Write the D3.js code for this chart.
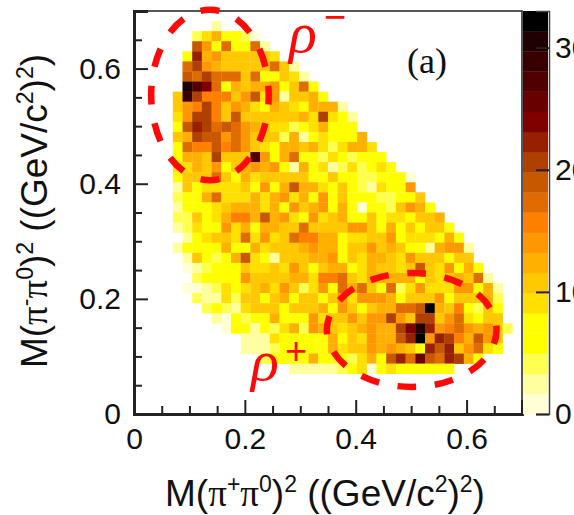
<!DOCTYPE html>
<html>
<head>
<meta charset="utf-8">
<script src="https://cdn.jsdelivr.net/npm/d3@7"></script>
<style>
  html, body { margin: 0; padding: 0; background: #fff; overflow: hidden; }
  svg { display: block; }
  text { font-family: "Liberation Sans", Arial, sans-serif; fill: #111; }
</style>
</head>
<body>
<div id="chart"></div>
<script>
// 40 x 40 bins, rows listed from the top of the plot down (row 0 is empty)
const binCount = 40;
const axisMax = 0.7;
const zMax = 33;
const firstBin = [8, 6, 6, 5, 5, 5, 5, 4, 4, 4, 4, 4, 4, 4, 4, 4, 4, 4, 4, 4, 4, 5, 4, 5, 5, 6, 5, 6, 7, 8, 9, 11, 11, 13, 16];
const rowCounts = [
  [2],
  [4,9,13,6,6,4,1],
  [19,14,6,18,6,6,18,2],
  [6,23,13,14,11,11,11,11,11,9],
  [18,21,14,13,11,11,11,11,11,18,11,2],
  [19,18,21,18,18,18,11,18,6,6,11,9,2],
  [31,28,24,18,6,13,11,13,13,14,6,11,18,6],
  [11,29,21,16,16,16,11,14,19,9,14,2,11,11,13,6],
  [11,14,16,21,16,11,14,13,9,6,13,11,9,6,13,13,13,2],
  [9,14,21,21,16,11,19,11,11,11,11,11,11,13,9,21,9,6,2],
  [6,19,23,21,18,19,18,14,13,11,9,9,4,6,9,13,6,6,6],
  [11,13,21,19,19,14,18,14,11,11,11,4,13,2,6,9,6,6,6,13],
  [6,18,16,16,19,16,18,14,11,9,6,13,13,11,13,9,4,9,13,13,9],
  [6,13,13,11,21,11,11,11,28,14,6,13,18,6,6,4,9,6,4,6,6,6],
  [9,9,13,11,14,6,11,13,14,13,14,6,2,13,6,9,2,4,9,4,6,9,6],
  [6,11,11,11,18,11,6,13,9,11,11,11,11,11,6,6,11,6,6,4,4,6,6,6,1],
  [2,11,6,9,9,9,9,11,6,14,6,13,19,13,13,9,6,11,6,4,2,9,6,6,14],
  [4,6,6,13,18,9,9,9,13,9,13,14,9,13,6,14,6,11,6,6,6,4,4,6,6,11],
  [2,6,6,6,9,11,13,13,13,9,13,6,14,11,13,14,6,13,6,1,6,6,4,11,14,13,6],
  [4,4,11,6,9,13,16,16,13,19,13,14,9,6,14,9,11,13,6,6,11,6,9,9,6,11,11,13],
  [2,4,9,6,6,14,9,13,6,13,13,11,11,18,11,11,11,11,14,14,11,6,13,6,11,6,11,11,6],
  [2,6,9,11,11,9,18,9,14,9,11,18,16,16,13,13,6,9,9,11,11,14,6,9,9,9,6,13,6],
  [2,6,6,6,6,13,6,6,13,9,11,11,11,13,14,13,13,6,11,11,14,11,13,11,6,6,2,13,14,14,2],
  [2,11,6,4,6,13,19,9,6,2,11,11,11,13,13,14,6,11,9,13,13,11,9,14,11,11,11,6,11,11],
  [1,2,4,6,6,6,11,9,9,11,9,14,11,6,11,13,13,6,9,13,11,11,9,11,19,11,9,14,6,13,6],
  [4,6,6,6,6,14,11,11,11,11,13,13,9,16,16,18,11,9,13,13,13,13,13,6,11,9,11,13,11,18,2],
  [1,1,2,4,9,6,9,11,13,9,14,11,4,9,14,6,18,13,18,11,6,18,4,9,14,9,9,9,14,14,6,13,2],
  [4,2,2,9,4,11,11,6,11,13,6,11,11,6,11,14,9,14,14,14,13,6,11,11,11,14,6,11,11,11,13,4],
  [4,6,4,2,9,11,11,11,6,11,11,11,13,6,14,11,6,11,13,13,18,18,19,33,13,11,16,6,4,11,6],
  [2,1,6,4,6,6,13,6,6,6,14,9,11,11,14,11,14,14,21,14,11,21,21,11,14,18,9,6,11,11],
  [1,6,6,2,6,4,9,13,4,14,13,11,9,11,13,14,13,13,21,24,31,23,14,16,18,14,13,14,11,4],
  [2,2,2,9,6,6,6,6,6,13,6,11,9,14,13,13,19,23,33,14,23,21,16,13,19,14,11],
  [2,2,2,4,6,6,6,6,6,13,9,11,11,14,13,14,13,11,6,23,19,23,11,14,18,9,6],
  [4,6,6,6,6,13,6,6,6,4,9,13,6,19,23,18,26,19,18,23,21,13,6],
  [2,2,2,2,2,4,6,9,1,6,9,6,6,6,6,6,6]
];
const palette = ["#ffffd6", "#ffffa0", "#ffff50", "#ffff00", "#ffff00", "#ffe000", "#ffc800", "#ffb000", "#ff9800", "#ff8000",
  "#e06c00", "#c85800", "#b04000", "#982000", "#800000", "#680000", "#500000", "#380000", "#200000", "#000000"];
const majorTicks = [0, 0.2, 0.4, 0.6];
const minorTicks = [0.05, 0.1, 0.15, 0.25, 0.3, 0.35, 0.45, 0.5, 0.55, 0.65];
const zTicks = [0, 10, 20, 30];
// resonance bands: centre and half axes, in axis units
const ellipseCx = [0.137, 0.501];
const ellipseCy = [0.554, 0.146];
const ellipseRx = [0.106, 0.153];
const ellipseRy = [0.148, 0.099];
const ellipseDashShift = [0.25, 0.12];

const width = 574, height = 515;
const plotLeft = 134, plotRight = 522, plotTop = 11, plotBottom = 414;
const barRight = 549;

const svg = d3.select("#chart").append("svg").attr("width", width).attr("height", height);

const x = d3.scaleLinear().domain([0, axisMax]).range([plotLeft, plotRight]);
const y = d3.scaleLinear().domain([0, axisMax]).range([plotBottom, plotTop]);
const z = d3.scaleQuantize().domain([0, zMax]).range(palette);
const zBar = d3.scaleLinear().domain([0, zMax]).range([plotBottom, plotTop]);

// flatten rows into cells
const binSize = axisMax / binCount;
const cells = [];
rowCounts.forEach((row, r) => {
  row.forEach((count, i) => {
    cells.push({ col: firstBin[r] + i, row: binCount - 2 - r, count });
  });
});

svg.append("g")
  .selectAll("rect")
  .data(cells)
  .enter()
  .append("rect")
  .attr("x", (d) => x(d.col * binSize))
  .attr("y", (d) => y((d.row + 1) * binSize))
  .attr("width", x(binSize) - x(0) + 0.3)
  .attr("height", y(0) - y(binSize) + 0.3)
  .attr("fill", (d) => z(d.count));

// frame
svg.append("rect")
  .attr("x", plotLeft).attr("y", plotTop)
  .attr("width", plotRight - plotLeft).attr("height", plotBottom - plotTop)
  .attr("fill", "none").attr("stroke", "#444").attr("stroke-width", 1.8);

const fontSize = 30;

// x axis
const xAxis = svg.append("g").attr("transform", "translate(0," + plotBottom + ")");
xAxis.call(d3.axisBottom(x).tickValues(majorTicks).tickSize(-14).tickPadding(14)
  .tickFormat((d) => (d === 0 ? "0" : d.toFixed(1))));
const xMinor = svg.append("g").attr("transform", "translate(0," + plotBottom + ")");
xMinor.call(d3.axisBottom(x).tickValues(minorTicks).tickSize(-8).tickFormat(""));

// y axis
const yAxis = svg.append("g").attr("transform", "translate(" + plotLeft + ",0)");
yAxis.call(d3.axisLeft(y).tickValues(majorTicks).tickSize(-14).tickPadding(13)
  .tickFormat((d) => (d === 0 ? "0" : d.toFixed(1))));
const yMinor = svg.append("g").attr("transform", "translate(" + plotLeft + ",0)");
yMinor.call(d3.axisLeft(y).tickValues(minorTicks).tickSize(-8).tickFormat(""));

[xAxis, xMinor, yAxis, yMinor].forEach((g) => {
  g.select(".domain").attr("stroke", "#222").attr("stroke-width", 3);
  g.selectAll("line").attr("stroke", "#222").attr("stroke-width", 2);
  g.selectAll("text").style("font-size", fontSize + "px").style("fill", "#111")
    .style("font-family", '"Liberation Sans"');
});

// colour bar
const bandHeight = (plotBottom - plotTop) / palette.length;
svg.append("g")
  .selectAll("rect")
  .data(palette)
  .enter()
  .append("rect")
  .attr("x", plotRight + 1)
  .attr("y", (d, i) => zBar((i + 1) * zMax / palette.length))
  .attr("width", barRight - plotRight - 2)
  .attr("height", bandHeight + 0.3)
  .attr("fill", (d) => d);

const zAxis = svg.append("g").attr("transform", "translate(" + barRight + ",0)");
zAxis.call(d3.axisRight(zBar).tickValues(zTicks).tickSize(-13).tickPadding(6));
zAxis.select(".domain").attr("stroke", "#444").attr("stroke-width", 1.5);
zAxis.selectAll("line").attr("stroke", "#222").attr("stroke-width", 2);
zAxis.selectAll("text").style("font-size", fontSize + "px").style("fill", "#111")
  .style("font-family", '"Liberation Sans"').attr("text-anchor", "start");

// axis titles, superscripts carry the baseline shift to the next piece
function massTitle(sel, sign) {
  const parts = [
    ["M(", "n"], ["\u03c0", "p"], [sign, "s"], ["\u03c0", "p"], ["0", "s"], [")", "n"], ["2", "s"],
    [" ((GeV/c", "n"], ["2", "s"], [")", "n"], ["2", "s"], [")", "n"]
  ];
  let raised = false;
  parts.forEach(([t, kind]) => {
    const span = sel.append("tspan").text(t);
    if (kind === "p") span.style("font-family", '"Liberation Serif"');
    if (kind === "s") {
      span.style("font-size", "23px").attr("dy", -14);
      raised = true;
    } else if (raised) {
      span.attr("dy", 14);
      raised = false;
    }
  });
}

svg.append("text")
  .attr("x", 325).attr("y", 506)
  .attr("text-anchor", "middle")
  .style("font-size", "37px")
  .style("white-space", "pre")
  .call(massTitle, "+");

svg.append("text")
  .attr("transform", "translate(47,211) rotate(-90)")
  .attr("text-anchor", "middle")
  .style("font-size", "37px")
  .style("white-space", "pre")
  .call(massTitle, "-");

// dashed ellipses
svg.append("g")
  .selectAll("ellipse")
  .data(ellipseCx)
  .enter()
  .append("ellipse")
  .attr("cx", (d) => x(d))
  .attr("cy", (d, i) => y(ellipseCy[i]))
  .attr("rx", (d, i) => x(ellipseRx[i]) - x(0))
  .attr("ry", (d, i) => y(0) - y(ellipseRy[i]))
  .attr("fill", "none")
  .attr("stroke", "#ff0808")
  .attr("stroke-width", 6.5)
  .attr("pathLength", 12)
  .attr("stroke-dasharray", "0.5 0.5")
  .attr("stroke-dashoffset", (d, i) => ellipseDashShift[i]);

// labels
svg.append("text").attr("x", 407).attr("y", 73)
  .style("font-family", '"Liberation Serif"').style("font-size", "36px").text("(a)");

const rhoLabel = (px, py, sign, sx, sy) => {
  svg.append("text").attr("x", px).attr("y", py)
    .style("font-family", '"Liberation Serif"').style("font-style", "italic")
    .style("font-size", "58px").style("fill", "#ff0808").text("\u03c1");
  svg.append("text").attr("x", sx).attr("y", sy).attr("text-anchor", "middle")
    .style("font-size", "38px").style("fill", "#ff0808").text(sign);
};
rhoLabel(289, 52, "\u2212", 335, 30);
rhoLabel(251, 380, "+", 296, 364);
</script>
</body>
</html>
